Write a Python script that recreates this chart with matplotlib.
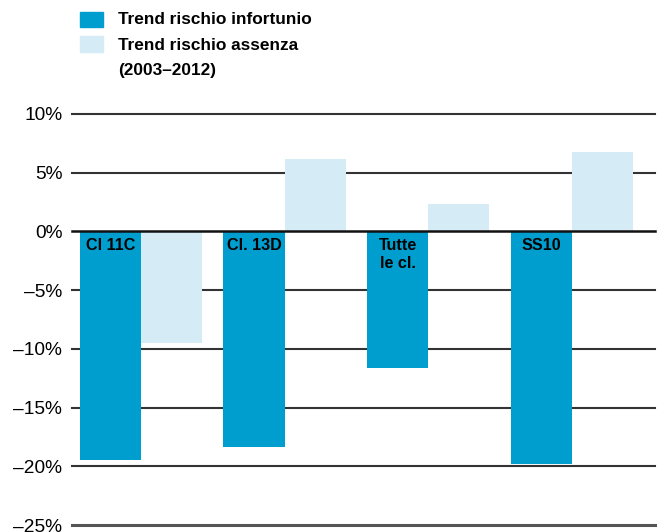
import matplotlib
matplotlib.use("Agg")
import matplotlib.pyplot as plt
from matplotlib.patches import Rectangle

plt.rcParams['font.family'] = ['Liberation Sans', 'DejaVu Sans']

# data
categories = ['Cl 11C', 'Cl. 13D', 'Tutte\nle cl.', 'SS10']
infortunio = [-19.5, -18.4, -11.6, -19.8]
assenza = [-9.5, 6.2, 2.3, 6.8]
yticks = [10, 5, 0, -5, -10, -15, -20, -25]
ytick_labels = ['10%', '5%', '0%', '\u20135%', '\u201310%', '\u201315%', '\u201320%', '\u201325%']
legend_lines = ['Trend rischio infortunio', 'Trend rischio assenza', '(2003\u20132012)']

dark = '#009ECE'
light = '#D5ECF6'

W, H = 660, 532
fig = plt.figure(figsize=(W / 100, H / 100), dpi=100)
ax = fig.add_axes([72 / W, (H - 525) / H, 583 / W, 411 / H])

x = list(range(len(categories)))
bw = 0.425
ax.bar([i - bw / 2 for i in x], infortunio, width=bw, color=dark, zorder=2)
ax.bar([i + bw / 2 for i in x], assenza, width=bw, color=light, zorder=2)

for t in yticks:
    if t == 0:
        ax.axhline(t, color='#111111', lw=1.8, zorder=3, clip_on=False)
    elif t == -25:
        ax.axhline(t, color='#555555', lw=2.2, zorder=1, clip_on=False)
    else:
        ax.axhline(t, color='#333333', lw=1.5, zorder=1, clip_on=False)

for i, c in enumerate(categories):
    ax.text(i - bw / 2, -0.55, c, ha='center', va='top', fontsize=11.6,
            fontweight='bold', color='black', linespacing=1.25, zorder=4)

ax.set_xlim(-0.48, 3.58)
ax.set_ylim(-25, 10)
ax.set_yticks(yticks)
ax.set_yticklabels(ytick_labels, fontsize=13.8)
ax.set_xticks([])
ax.tick_params(axis='y', length=0, pad=7)
for s in ax.spines.values():
    s.set_visible(False)

# legend
fig.patches.append(Rectangle((80 / W, 1 - 27 / H), 23 / W, 15 / H,
                             transform=fig.transFigure, color=dark))
fig.patches.append(Rectangle((80 / W, 1 - 52 / H), 23 / W, 16 / H,
                             transform=fig.transFigure, color=light))
for txt, yc in zip(legend_lines, [20, 45, 71]):
    fig.text(118 / W, 1 - yc / H, txt, fontsize=12.4, fontweight='bold',
             va='center', ha='left')

fig.savefig('out.png', dpi=100)
